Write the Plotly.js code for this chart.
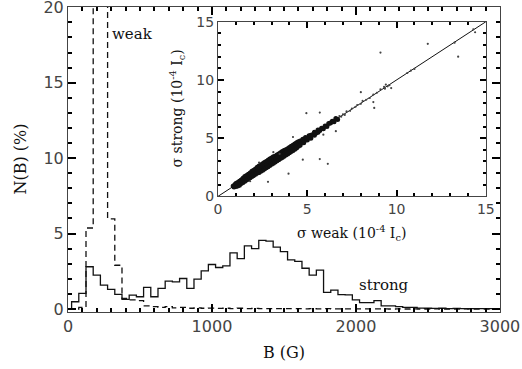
<!DOCTYPE html>
<html>
<head>
<meta charset="utf-8">
<script src="https://cdn.plot.ly/plotly-3.0.1.min.js"></script>
<style>html,body{margin:0;padding:0;background:#fff;}#chart{width:522px;height:369px;}</style>
</head>
<body>
<div id="chart"></div>
<script>
// Histogram bin centres (G)
const fieldBins = [0,50,100,150,200,250,300,350,400,450,500,550,600,650,700,750,800,850,900,950,
  1000,1050,1100,1150,1200,1250,1300,1350,1400,1450,1500,1550,1600,1650,1700,1750,1800,1850,1900,1950,
  2000,2050,2100,2150,2200,2250,2300,2350,2400,2450,2500,2550,2600,2650,2700,2750,2800,2850,2900,2950,3000];

// N(B) in %, strong line
const strongPct = [0,0.48,1.03,2.8,2.24,1.58,1.3,0.97,0.64,0.92,0.81,1.43,0.81,1.36,1.85,1.8,2.02,1.36,1.98,2.53,
  2.95,2.75,2.86,3.72,3.34,4.18,4.0,4.55,4.5,4.1,3.8,3.25,3.15,2.7,2.24,2.57,1.1,1.25,0.95,0.93,
  0.6,0.42,0.42,0.55,0.2,0.2,0.15,0.11,0.11,0.06,0.05,0.04,0.05,0.03,0.04,0.03,0.02,0.03,0.02,0.02,0.01];

// N(B) in %, weak line
const weakPct = [0,0,0.1,5.37,44,38,5.98,2.9,0.7,0.6,0.55,0.2,0.15,0.1,0.15,0.08,0.1,0.05,0.08,0.05,
  0.06,0.04,0.05,0.03,0.05,0.03,0.04,0.02,0.03,0.02,0.03,0.02,0.02,0.01,0.02,0.01,0.02,0.01,0.01,0.01,
  0.01,0.01,0.01,0.01,0.01,0,0.01,0,0.01,0,0,0.01,0,0,0,0.01,0,0,0,0,0];

// Inset: sigma weak vs sigma strong (1e-4 Ic), dense core of the cloud
const coreWeak = [0.85,0.9,0.95,1.0,1.0,1.05,1.1,1.1,1.15,1.2,1.2,1.25,1.3,1.3,1.35,1.4,1.4,1.45,1.5,1.5,
  1.55,1.6,1.6,1.65,1.7,1.7,1.75,1.8,1.8,1.85,1.9,1.9,1.95,2.0,2.0,2.05,2.1,2.1,2.15,2.2,
  2.2,2.25,2.3,2.3,2.35,2.4,2.4,2.45,2.5,2.5,2.55,2.6,2.6,2.65,2.7,2.7,2.75,2.8,2.8,2.85,
  2.9,2.9,2.95,3.0,3.0,3.05,3.1,3.1,3.15,3.2,3.2,3.25,3.3,3.3,3.35,3.4,3.4,3.45,3.5,3.5,
  3.55,3.6,3.6,3.65,3.7,3.7,3.75,3.8,3.8,3.85,3.9,3.9,3.95,4.0,4.0,4.05,4.1,4.1,4.15,4.2,
  4.2,4.25,4.3,4.3,4.35,4.4,4.4,4.45,4.5,4.5,4.55,4.6,4.6,4.7,4.75,4.8,4.85,4.9,5.0,5.0,
  5.1,5.2,5.2,5.3,5.4,5.4,5.5,5.6,5.6,5.7,5.8,5.9,6.0,6.1,6.2,6.3,6.4,6.5,6.6,6.7];
const coreStrong = [0.9,0.8,1.0,0.85,1.1,0.95,1.2,0.9,1.05,1.3,0.95,1.15,1.4,1.1,1.25,1.55,1.2,1.35,1.7,1.3,
  1.5,1.8,1.4,1.6,1.9,1.5,1.7,2.0,1.6,1.8,2.15,1.7,1.9,2.25,1.8,2.0,2.35,1.9,2.1,2.5,
  2.0,2.2,2.6,2.05,2.3,2.7,2.15,2.45,2.8,2.25,2.5,2.9,2.35,2.6,3.0,2.45,2.7,3.1,2.55,2.8,
  3.2,2.65,2.9,3.3,2.75,3.0,3.4,2.85,3.1,3.45,2.95,3.2,3.55,3.05,3.3,3.65,3.15,3.4,3.75,3.25,
  3.5,3.85,3.35,3.6,3.95,3.45,3.7,4.0,3.55,3.8,4.1,3.65,3.9,4.2,3.75,4.0,4.3,3.85,4.1,4.4,
  3.95,4.2,4.5,4.05,4.3,4.6,4.15,4.4,4.7,4.3,4.5,4.75,4.4,4.65,4.9,4.6,4.8,5.05,4.85,5.0,
  5.2,5.0,5.25,5.3,5.25,5.5,5.45,5.7,5.5,5.65,5.85,5.8,6.05,6.0,6.25,6.3,6.45,6.4,6.7,6.6];
// sparser points and outliers
const sparseWeak = [6.8,6.9,7.0,7.1,7.2,7.4,7.5,7.7,7.8,8.0,8.1,8.3,8.5,8.7,8.9,9.1,9.3,9.35,9.4,9.5,
  9.6,9.7,10.6,10.8,11.0,
  3.1,3.45,2.8,3.95,4.75,6.15,5.7,4.95,5.7,8.0,8.7,8.75,9.1,11.75,13.25,13.45,14.4,14.3,6.6,2.3,1.8,4.2,5.9];
const sparseStrong = [6.9,6.85,7.05,7.0,7.3,7.35,7.55,7.7,7.85,7.95,8.2,8.3,8.45,8.75,8.9,9.2,9.4,9.25,9.6,9.45,
  9.55,9.3,10.6,10.8,10.95,
  3.8,3.65,1.25,1.95,3.15,2.8,3.2,7.15,7.2,8.95,8.1,7.6,12.35,13.1,13.2,12.0,14.1,14.35,5.6,2.9,1.3,5.1,5.3];
const oneToOne = [0, 15];

const serif = 'DejaVu Serif, Liberation Serif, serif';
const sans = 'DejaVu Sans, Liberation Sans, sans-serif';
const ink = '#111';

const traces = [
  {x: fieldBins, y: strongPct, type: 'scatter', mode: 'lines',
   line: {shape: 'hvh', color: ink, width: 1.3}, hoverinfo: 'skip'},
  {x: fieldBins, y: weakPct, type: 'scatter', mode: 'lines',
   line: {shape: 'hvh', color: ink, width: 1.3, dash: '6px,4px'}, hoverinfo: 'skip'},
  {x: oneToOne, y: oneToOne, type: 'scatter', mode: 'lines',
   line: {color: ink, width: 1}, xaxis: 'x2', yaxis: 'y2', hoverinfo: 'skip'},
  {x: coreWeak, y: coreStrong, type: 'scatter', mode: 'markers',
   marker: {size: 5, color: '#111'}, xaxis: 'x2', yaxis: 'y2', hoverinfo: 'skip'},
  {x: sparseWeak, y: sparseStrong, type: 'scatter', mode: 'markers',
   marker: {size: 2.2, color: '#444'}, xaxis: 'x2', yaxis: 'y2', hoverinfo: 'skip'}
];

const layout = {
  width: 522, height: 369,
  margin: {l: 68, r: 22, t: 7, b: 57},
  showlegend: false,
  xaxis: {
    range: [0, 3000.5], dtick: 1000, ticks: 'inside', ticklen: 8, tickcolor: 'black', tickwidth: 1.5,
    showline: true, mirror: 'ticks', showgrid: false, zeroline: false,
    minor: {dtick: 100, ticklen: 4, ticks: 'inside', tickcolor: 'black'},
    tickfont: {family: sans, size: 16}
  },
  yaxis: {
    range: [-0.2, 20.02], dtick: 5, ticks: 'inside', ticklen: 8, tickcolor: 'black', tickwidth: 1.5,
    showline: true, mirror: 'ticks', showgrid: false, zeroline: false,
    ticklabeloverflow: 'allow',
    minor: {dtick: 1, ticklen: 4, ticks: 'inside', tickcolor: 'black'},
    tickfont: {family: sans, size: 16}
  },
  xaxis2: {
    domain: [0.3472, 0.9676], range: [0, 15.01], dtick: 5, ticks: 'inside', ticklen: 6, tickcolor: 'black', tickwidth: 1.5,
    showline: true, mirror: 'ticks', showgrid: false, zeroline: false,
    minor: {dtick: 1, ticklen: 3, ticks: 'inside', tickcolor: 'black'},
    tickfont: {family: sans, size: 14},
    anchor: 'y2'
  },
  yaxis2: {
    domain: [0.3791, 0.952], range: [0, 15.01], dtick: 5, ticks: 'inside', ticklen: 6, tickcolor: 'black', tickwidth: 1.5,
    showline: true, mirror: 'ticks', showgrid: false, zeroline: false,
    minor: {dtick: 1, ticklen: 3, ticks: 'inside', tickcolor: 'black'},
    tickfont: {family: sans, size: 14},
    anchor: 'x2'
  },
  annotations: [
    {x: 0.5, y: -0.134, xref: 'paper', yref: 'paper', text: 'B (G)', showarrow: false,
     xanchor: 'center', yanchor: 'middle', font: {family: serif, size: 16, color: ink}},
    {x: -0.111, y: 0.5, xref: 'paper', yref: 'paper', text: 'N(B) (%)', showarrow: false, textangle: -90,
     xanchor: 'center', yanchor: 'middle', font: {family: serif, size: 16, color: ink}},
    {x: 0.657, y: 0.258, xref: 'paper', yref: 'paper', text: '\u03c3 weak (10<sup>-4</sup> I<sub>c</sub>)', showarrow: false,
     xanchor: 'center', yanchor: 'middle', font: {family: serif, size: 14, color: ink}},
    {x: 0.252, y: 0.667, xref: 'paper', yref: 'paper', text: '\u03c3 strong (10<sup>-4</sup> I<sub>c</sub>)', showarrow: false, textangle: -90,
     xanchor: 'center', yanchor: 'middle', font: {family: serif, size: 14, color: ink}},
    {x: 290, y: 18.2, xref: 'x', yref: 'y', text: 'weak', showarrow: false, xanchor: 'left',
     font: {family: serif, size: 15, color: ink}},
    {x: 2005, y: 1.6, xref: 'x', yref: 'y', text: 'strong', showarrow: false, xanchor: 'left',
     font: {family: serif, size: 15, color: ink}}
  ]
};

Plotly.newPlot('chart', traces, layout, {displayModeBar: false});
</script>
</body>
</html>
